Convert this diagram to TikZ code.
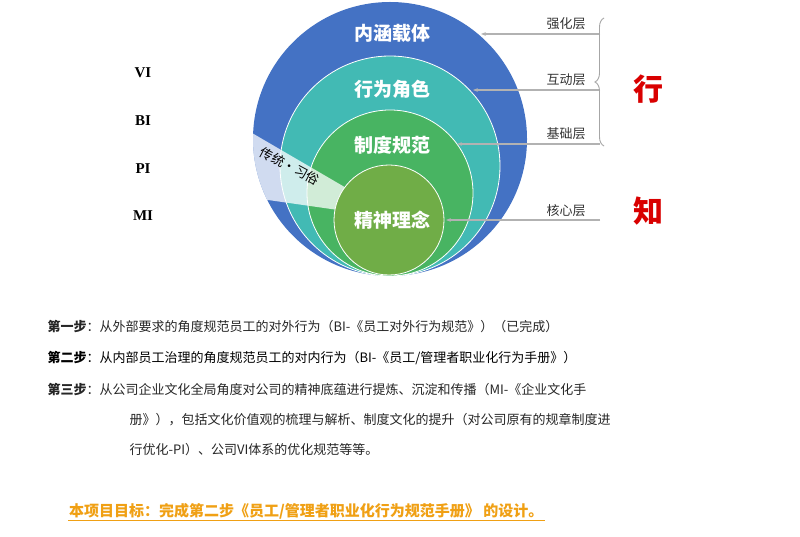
\documentclass[tikz,border=0pt]{standalone}
\usepackage{fontspec}
\setmainfont{Liberation Serif}
\newfontfamily\cjk{Noto Sans CJK SC}
\newcommand\cjkb{\cjk\bfseries}
\usetikzlibrary{decorations.pathreplacing,arrows.meta}
\definecolor{cblue}{RGB}{68,114,196}
\definecolor{cteal}{RGB}{66,186,180}
\definecolor{cgreen}{RGB}{72,180,98}
\definecolor{colive}{RGB}{112,173,71}
\definecolor{corange}{RGB}{240,160,20}
\begin{document}
\begin{tikzpicture}[x=1pt,y=-1pt,
  ring/.style={draw=white,line width=0.8pt},
  clabel/.style={text=white,font=\cjkb\fontsize{19}{19}\selectfont},
  layer/.style={font=\cjk\fontsize{13}{13}\selectfont,text=black!80},
  ptr/.style={draw=black!30,line width=1.3pt,-{Stealth[length=5pt]}},
  roman/.style={font=\bfseries\fontsize{15}{15}\selectfont},
  stepline/.style={anchor=west,font=\cjk\fontsize{13}{13}\selectfont,text=black!85},
  big/.style={text=red!85!black,font=\cjkb\fontsize{30}{30}\selectfont}]
\useasboundingbox (0,0) rectangle (800,537);
\fill[white] (0,0) rectangle (800,537);
% circles
\fill[fill=cblue] (390,139) circle (137);
\filldraw[ring,fill=cteal] (390,166) circle (110);
\filldraw[ring,fill=cgreen] (390,193) circle (83);
% band
\begin{scope}
\clip (390,139) circle (137);
\fill[white,opacity=0.75] (240,126) -- (348,189) -- (338,210) -- (240,196) -- cycle;
\end{scope}
\filldraw[ring,fill=colive] (389,220) circle (55);
\node[rotate=-28,font=\cjk\fontsize{13}{13}\selectfont] (band) at (290,166) {传统·习俗};
\node[clabel] (c1) at (392,33) {内涵载体};
\node[clabel] (c2) at (392,89) {行为角色};
\node[clabel] (c3) at (392,145) {制度规范};
\node[clabel] (c4) at (392,220) {精神理念};
% labels
\node[layer] (l1) at (566,24) {强化层};
\node[layer] (l2) at (566,80) {互动层};
\node[layer] (l3) at (566,134) {基础层};
\node[layer] (l4) at (566,211) {核心层};
\coordinate (e1) at (600,34); \coordinate (t1) at (481,34);
\coordinate (e2) at (600,90); \coordinate (t2) at (473,90);
\coordinate (e3) at (600,144); \coordinate (t3) at (457,144);
\coordinate (e4) at (600,220); \coordinate (t4) at (446,220);
\draw[ptr] (e1) -- (t1);
\draw[ptr] (e2) -- (t2);
\draw[ptr] (e3) -- (t3);
\draw[ptr] (e4) -- (t4);
\coordinate (b1) at (604,18); \coordinate (b2) at (604,146);
\draw[black!35,line width=0.9pt,decorate,decoration={brace,amplitude=9pt,mirror}] (b1) -- (b2);
\node[big] (xing) at (648,89) {行};
\node[big] (zhi) at (648,211) {知};
% roman
\node[roman] (vi) at (143,73) {VI};
\node[roman] (bi) at (143,121) {BI};
\node[roman] (pi) at (143,169) {PI};
\node[roman] (mi) at (143,216) {MI};
% steps
\node[stepline] (s1) at (44,327) {{\cjkb 第一步}：从外部要求的角度规范员工的对外行为（BI-《员工对外行为规范》）（已完成）};
\node[stepline,text=black] (s2) at (44,358) {{\cjkb 第二步}：从内部员工治理的角度规范员工的对内行为（BI-《员工/管理者职业化行为手册》）};
\node[stepline] (s3) at (44,389) {{\cjkb 第三步}：从公司企业文化全局角度对公司的精神底蕴进行提炼、沉淀和传播（MI-《企业文化手};
\node[stepline] (s4) at (126,420) {册》），包括文化价值观的梳理与解析、制度文化的提升（对公司原有的规章制度进};
\node[stepline] (s5) at (126,450) {行优化-PI）、公司VI体系的优化规范等等。};
\node[anchor=west,inner sep=1pt,text=corange,font=\cjkb\fontsize{15}{15}\selectfont] (goal) at (68,511) {本项目目标：完成第二步《员工/管理者职业化行为规范手册》 的设计。};
\draw[corange,line width=0.8pt] (goal.south west) -- (goal.south east);
\end{tikzpicture}
\end{document}
